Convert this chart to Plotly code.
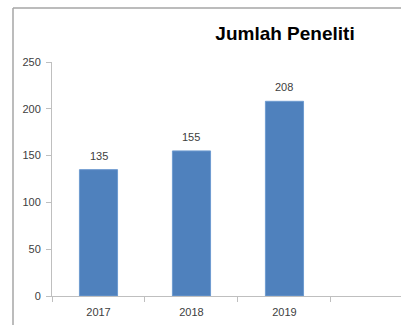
import plotly.graph_objects as go

years = ["2017", "2018", "2019", ""]
values = [135, 155, 208, None]
labels = ["135", "155", "208"]
title_text = "Jumlah Peneliti"

W, H = 401, 325
ml, mr, mt, mb = 52, 0, 62, 29
pw = W - ml - mr
ph = H - mt - mb

def px_x(px):
    return (px - ml) / pw

def px_y(py):
    return (H - mb - py) / ph

font_fam = "Liberation Sans"
txt_col = "#404040"

fig = go.Figure()
fig.add_trace(go.Bar(
    x=years, y=values,
    marker=dict(color="#4F81BD", line=dict(color="#6E9BD0", width=1)),
    width=0.41,
))

# data labels above bars (category index position on the category axis)
for i, (v, lab) in enumerate(zip(values, labels)):
    fig.add_annotation(x=i, y=v, xref="x", yref="y", text=lab, showarrow=False,
                       yanchor="bottom", yshift=6,
                       font=dict(family=font_fam, size=11, color=txt_col))

fig.update_layout(
    width=W, height=H,
    margin=dict(l=ml, r=mr, t=mt, b=mb, pad=0),
    paper_bgcolor="white", plot_bgcolor="white",
    showlegend=False,
    title=dict(text="<b>" + title_text + "</b>", x=285 / W, xref="container", xanchor="center",
               y=1 - 33 / H, yref="container", yanchor="middle",
               font=dict(family=font_fam, size=19, color="#000000")),
    xaxis=dict(type="category", range=[-0.5, 3.253], showgrid=False,
               showline=True, linecolor="#BFBFBF", linewidth=1,
               ticks="outside", ticklen=5, tickcolor="#BFBFBF", tickson="boundaries",
               ticklabelstandoff=6,
               tickfont=dict(family=font_fam, size=11, color=txt_col),
               fixedrange=True),
    yaxis=dict(range=[0, 250], tickvals=[0, 50, 100, 150, 200, 250], showgrid=False,
               showline=True, linecolor="#BFBFBF", linewidth=1,
               ticks="outside", ticklen=5, tickcolor="#BFBFBF",
               ticklabelstandoff=3,
               tickfont=dict(family=font_fam, size=11, color=txt_col),
               zeroline=False, fixedrange=True),
)

# outer chart frame (left and top edges visible)
fig.add_shape(type="line", xref="paper", yref="paper",
              x0=px_x(13), x1=px_x(13), y0=px_y(8), y1=px_y(H + 5),
              line=dict(color="#A6A6A6", width=1.5))
fig.add_shape(type="line", xref="paper", yref="paper",
              x0=px_x(13), x1=px_x(W + 5), y0=px_y(8), y1=px_y(8),
              line=dict(color="#A6A6A6", width=1.5))

fig.write_html("out.html")
